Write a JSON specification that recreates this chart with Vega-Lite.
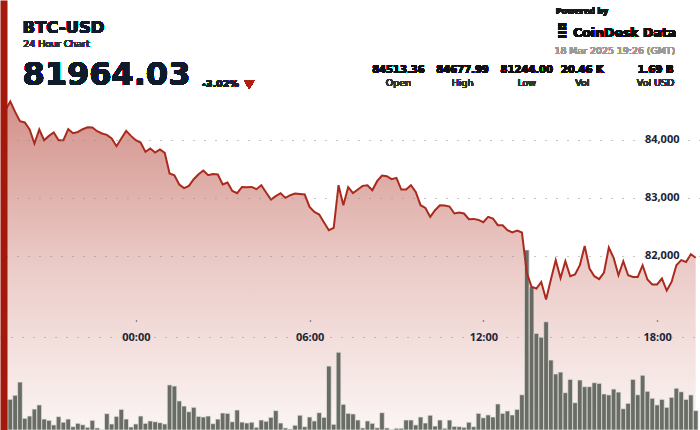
{
  "$schema": "https://vega.github.io/schema/vega-lite/v6.json",
  "width": 700,
  "height": 430,
  "autosize": {"type": "fit", "contains": "padding"},
  "padding": 0,
  "background": "white",
  "config": {"view": {"stroke": null}, "font": "Open Sans"},
  "data": {"values": [
    {"t":"2025-03-17T19:30Z","price":84513,"vol":190},
    {"t":"2025-03-17T19:40Z","price":84660,"vol":193},
    {"t":"2025-03-17T19:50Z","price":84480,"vol":219},
    {"t":"2025-03-17T20:00Z","price":84319,"vol":302},
    {"t":"2025-03-17T20:10Z","price":84297,"vol":74},
    {"t":"2025-03-17T20:20Z","price":84176,"vol":88},
    {"t":"2025-03-17T20:30Z","price":83934,"vol":132},
    {"t":"2025-03-17T20:40Z","price":84176,"vol":158},
    {"t":"2025-03-17T20:50Z","price":83991,"vol":69},
    {"t":"2025-03-17T21:00Z","price":84066,"vol":61},
    {"t":"2025-03-17T21:10Z","price":84124,"vol":32},
    {"t":"2025-03-17T21:20Z","price":83991,"vol":84},
    {"t":"2025-03-17T21:30Z","price":83991,"vol":49},
    {"t":"2025-03-17T21:40Z","price":84181,"vol":69},
    {"t":"2025-03-17T21:50Z","price":84112,"vol":21},
    {"t":"2025-03-17T22:00Z","price":84134,"vol":42},
    {"t":"2025-03-17T22:10Z","price":84181,"vol":33},
    {"t":"2025-03-17T22:20Z","price":84215,"vol":17},
    {"t":"2025-03-17T22:30Z","price":84210,"vol":61},
    {"t":"2025-03-17T22:40Z","price":84147,"vol":13},
    {"t":"2025-03-17T22:50Z","price":84107,"vol":2},
    {"t":"2025-03-17T23:00Z","price":84083,"vol":103},
    {"t":"2025-03-17T23:10Z","price":84021,"vol":38},
    {"t":"2025-03-17T23:20Z","price":83888,"vol":86},
    {"t":"2025-03-17T23:30Z","price":84021,"vol":130},
    {"t":"2025-03-17T23:40Z","price":84152,"vol":69},
    {"t":"2025-03-17T23:50Z","price":84066,"vol":19},
    {"t":"2025-03-18T00:00Z","price":83991,"vol":38},
    {"t":"2025-03-18T00:10Z","price":83952,"vol":88},
    {"t":"2025-03-18T00:20Z","price":83790,"vol":42},
    {"t":"2025-03-18T00:30Z","price":83848,"vol":57},
    {"t":"2025-03-18T00:40Z","price":83779,"vol":52},
    {"t":"2025-03-18T00:50Z","price":83831,"vol":46},
    {"t":"2025-03-18T01:00Z","price":83772,"vol":38},
    {"t":"2025-03-18T01:10Z","price":83417,"vol":284},
    {"t":"2025-03-18T01:20Z","price":83388,"vol":277},
    {"t":"2025-03-18T01:30Z","price":83228,"vol":183},
    {"t":"2025-03-18T01:40Z","price":83165,"vol":151},
    {"t":"2025-03-18T01:50Z","price":83204,"vol":115},
    {"t":"2025-03-18T02:00Z","price":83319,"vol":143},
    {"t":"2025-03-18T02:10Z","price":83405,"vol":86},
    {"t":"2025-03-18T02:20Z","price":83469,"vol":82},
    {"t":"2025-03-18T02:30Z","price":83388,"vol":88},
    {"t":"2025-03-18T02:40Z","price":83410,"vol":40},
    {"t":"2025-03-18T02:50Z","price":83400,"vol":69},
    {"t":"2025-03-18T03:00Z","price":83228,"vol":107},
    {"t":"2025-03-18T03:10Z","price":83262,"vol":105},
    {"t":"2025-03-18T03:20Z","price":83117,"vol":52},
    {"t":"2025-03-18T03:30Z","price":83078,"vol":126},
    {"t":"2025-03-18T03:40Z","price":83186,"vol":50},
    {"t":"2025-03-18T03:50Z","price":83181,"vol":44},
    {"t":"2025-03-18T04:00Z","price":83186,"vol":49},
    {"t":"2025-03-18T04:10Z","price":83147,"vol":17},
    {"t":"2025-03-18T04:20Z","price":83216,"vol":63},
    {"t":"2025-03-18T04:30Z","price":83090,"vol":55},
    {"t":"2025-03-18T04:40Z","price":82969,"vol":80},
    {"t":"2025-03-18T04:50Z","price":83026,"vol":122},
    {"t":"2025-03-18T05:00Z","price":83078,"vol":44},
    {"t":"2025-03-18T05:10Z","price":82997,"vol":13},
    {"t":"2025-03-18T05:20Z","price":83043,"vol":6},
    {"t":"2025-03-18T05:30Z","price":83072,"vol":30},
    {"t":"2025-03-18T05:40Z","price":83066,"vol":93},
    {"t":"2025-03-18T05:50Z","price":83055,"vol":21},
    {"t":"2025-03-18T06:00Z","price":82841,"vol":82},
    {"t":"2025-03-18T06:10Z","price":82755,"vol":57},
    {"t":"2025-03-18T06:20Z","price":82710,"vol":109},
    {"t":"2025-03-18T06:30Z","price":82573,"vol":80},
    {"t":"2025-03-18T06:40Z","price":82440,"vol":403},
    {"t":"2025-03-18T06:50Z","price":82479,"vol":36},
    {"t":"2025-03-18T07:00Z","price":83216,"vol":490},
    {"t":"2025-03-18T07:10Z","price":82871,"vol":162},
    {"t":"2025-03-18T07:20Z","price":83181,"vol":105},
    {"t":"2025-03-18T07:30Z","price":83080,"vol":101},
    {"t":"2025-03-18T07:40Z","price":83141,"vol":63},
    {"t":"2025-03-18T07:50Z","price":83204,"vol":13},
    {"t":"2025-03-18T08:00Z","price":83216,"vol":57},
    {"t":"2025-03-18T08:10Z","price":83129,"vol":42},
    {"t":"2025-03-18T08:20Z","price":83285,"vol":14},
    {"t":"2025-03-18T08:30Z","price":83383,"vol":109},
    {"t":"2025-03-18T08:40Z","price":83371,"vol":13},
    {"t":"2025-03-18T08:50Z","price":83319,"vol":2},
    {"t":"2025-03-18T09:00Z","price":83342,"vol":11},
    {"t":"2025-03-18T09:10Z","price":83141,"vol":11},
    {"t":"2025-03-18T09:20Z","price":83141,"vol":63},
    {"t":"2025-03-18T09:30Z","price":83216,"vol":63},
    {"t":"2025-03-18T09:40Z","price":83100,"vol":32},
    {"t":"2025-03-18T09:50Z","price":82871,"vol":82},
    {"t":"2025-03-18T10:00Z","price":82824,"vol":44},
    {"t":"2025-03-18T10:10Z","price":82669,"vol":93},
    {"t":"2025-03-18T10:20Z","price":82785,"vol":25},
    {"t":"2025-03-18T10:30Z","price":82871,"vol":63},
    {"t":"2025-03-18T10:40Z","price":82866,"vol":11},
    {"t":"2025-03-18T10:50Z","price":82848,"vol":63},
    {"t":"2025-03-18T11:00Z","price":82728,"vol":23},
    {"t":"2025-03-18T11:10Z","price":82745,"vol":21},
    {"t":"2025-03-18T11:20Z","price":82728,"vol":17},
    {"t":"2025-03-18T11:30Z","price":82629,"vol":49},
    {"t":"2025-03-18T11:40Z","price":82635,"vol":21},
    {"t":"2025-03-18T11:50Z","price":82617,"vol":105},
    {"t":"2025-03-18T12:00Z","price":82578,"vol":77},
    {"t":"2025-03-18T12:10Z","price":82669,"vol":95},
    {"t":"2025-03-18T12:20Z","price":82641,"vol":82},
    {"t":"2025-03-18T12:30Z","price":82526,"vol":164},
    {"t":"2025-03-18T12:40Z","price":82526,"vol":105},
    {"t":"2025-03-18T12:50Z","price":82440,"vol":120},
    {"t":"2025-03-18T13:00Z","price":82400,"vol":95},
    {"t":"2025-03-18T13:10Z","price":82434,"vol":130},
    {"t":"2025-03-18T13:20Z","price":82400,"vol":222},
    {"t":"2025-03-18T13:30Z","price":81707,"vol":1134},
    {"t":"2025-03-18T13:40Z","price":81462,"vol":903},
    {"t":"2025-03-18T13:50Z","price":81434,"vol":609},
    {"t":"2025-03-18T14:00Z","price":81548,"vol":584},
    {"t":"2025-03-18T14:10Z","price":81244,"vol":682},
    {"t":"2025-03-18T14:20Z","price":81590,"vol":441},
    {"t":"2025-03-18T14:30Z","price":81923,"vol":353},
    {"t":"2025-03-18T14:40Z","price":81617,"vol":365},
    {"t":"2025-03-18T14:50Z","price":81905,"vol":235},
    {"t":"2025-03-18T15:00Z","price":81647,"vol":319},
    {"t":"2025-03-18T15:10Z","price":81676,"vol":172},
    {"t":"2025-03-18T15:20Z","price":81836,"vol":315},
    {"t":"2025-03-18T15:30Z","price":82169,"vol":273},
    {"t":"2025-03-18T15:40Z","price":81779,"vol":273},
    {"t":"2025-03-18T15:50Z","price":81647,"vol":298},
    {"t":"2025-03-18T16:00Z","price":81595,"vol":294},
    {"t":"2025-03-18T16:10Z","price":81710,"vol":227},
    {"t":"2025-03-18T16:20Z","price":82141,"vol":221},
    {"t":"2025-03-18T16:30Z","price":81962,"vol":258},
    {"t":"2025-03-18T16:40Z","price":81664,"vol":239},
    {"t":"2025-03-18T16:50Z","price":81905,"vol":134},
    {"t":"2025-03-18T17:00Z","price":81664,"vol":168},
    {"t":"2025-03-18T17:10Z","price":81635,"vol":319},
    {"t":"2025-03-18T17:20Z","price":81635,"vol":222},
    {"t":"2025-03-18T17:30Z","price":81836,"vol":345},
    {"t":"2025-03-18T17:40Z","price":81590,"vol":244},
    {"t":"2025-03-18T17:50Z","price":81504,"vol":200},
    {"t":"2025-03-18T18:00Z","price":81504,"vol":158},
    {"t":"2025-03-18T18:10Z","price":81607,"vol":193},
    {"t":"2025-03-18T18:20Z","price":81400,"vol":143},
    {"t":"2025-03-18T18:30Z","price":81548,"vol":206},
    {"t":"2025-03-18T18:40Z","price":81836,"vol":263},
    {"t":"2025-03-18T18:50Z","price":81923,"vol":241},
    {"t":"2025-03-18T19:00Z","price":81893,"vol":193},
    {"t":"2025-03-18T19:10Z","price":82026,"vol":221},
    {"t":"2025-03-18T19:20Z","price":81964,"vol":122}
  ]},
  "layer": [
    {
      "mark": {"type": "area", "clip": true,
        "color": {"gradient": "linear", "x1": 0, "y1": 0, "x2": 0, "y2": 1,
          "stops": [
            {"offset": 0, "color": "#d3918a"},
            {"offset": 0.5, "color": "#ebcbc7"},
            {"offset": 1, "color": "#fbf5f4"}
          ]}},
      "encoding": {
        "x": {
          "field": "t", "type": "temporal",
          "scale": {"type": "utc", "domain": [
            {"year": 2025, "month": 3, "date": 17, "hours": 19, "minutes": 29, "utc": true},
            {"year": 2025, "month": 3, "date": 18, "hours": 19, "minutes": 18, "seconds": 33, "utc": true}
          ]},
          "axis": {
            "orient": "bottom", "offset": -93, "title": null, "grid": false,
            "values": [
              {"year": 2025, "month": 3, "date": 18, "hours": 0, "utc": true},
              {"year": 2025, "month": 3, "date": 18, "hours": 6, "utc": true},
              {"year": 2025, "month": 3, "date": 18, "hours": 12, "utc": true},
              {"year": 2025, "month": 3, "date": 18, "hours": 18, "utc": true}
            ],
            "labelExpr": "utcFormat(datum.value, '%H:%M')",
            "domain": true, "domainDash": [1, 10], "domainColor": "#8c8c8c", "domainWidth": 1,
            "ticks": true, "tickSize": -17, "tickDash": [0, 16, 1, 100], "tickColor": "#333333", "tickWidth": 1.3,
            "labelPadding": 17, "labelBaseline": "middle", "labelFlush": false,
            "labelFont": "Open Sans", "labelFontWeight": "bold", "labelFontSize": 11, "labelColor": "#1b2436",
            "zindex": 1
          }
        },
        "y": {
          "field": "price", "type": "quantitative",
          "scale": {"domain": [78995, 86409], "nice": false, "zero": false},
          "axis": {"orient": "right", "values": [82000, 83000, 84000], "labelExpr": "format(datum.value, ',')", "title": null,
                   "domain": false, "ticks": false, "labelPadding": -21, "labelAlign": "right",
                   "labelBaseline": "middle", "labelFont": "Open Sans", "labelFontWeight": "bold",
                   "labelFontSize": 11, "labelColor": "#1b2436",
                   "grid": true, "gridDash": [1, 10], "gridColor": "#8c8c8c", "gridWidth": 1, "zindex": 1}
        },
        "y2": {"datum": 78995}
      }
    },
    {
      "mark": {"type": "bar", "width": 4.7, "color": "#565b53", "opacity": 0.88, "stroke": "#e4e5e1", "strokeWidth": 0.7, "clip": true},
      "encoding": {
        "x": {"field": "t", "type": "temporal"},
        "y": {
          "field": "vol", "type": "quantitative",
          "scale": {"domain": [0, 2709], "nice": false, "zero": true},
          "axis": {"orient": "left", "labels": false, "ticks": false, "grid": false, "title": null,
                   "domainColor": "#a3190b", "domainWidth": 7, "offset": -3.5, "zindex": 3}
        }
      }
    },
    {
      "encoding": {
        "x": {"field": "t", "type": "temporal"},
        "y": {"field": "price", "type": "quantitative", "axis": null,
              "scale": {"domain": [78995, 86409], "nice": false, "zero": false}}
      },
      "layer": [
        {
          "mark": {"type": "line", "color": "#aa2a1d", "strokeWidth": 2, "clip": true}
        },
        {
          "mark": {"type": "text", "text": "BTC-USD", "font": "DejaVu Sans", "fontWeight": "bold", "fontSize": 16.5, "color": "#0f1a2b", "align": "left", "baseline": "alphabetic"},
          "encoding": {"x": {"datum": {"year": 2025, "month": 3, "date": 17, "hours": 20, "minutes": 5, "utc": true}}, "y": {"datum": 85834, "axis": null}}
        },
        {
          "mark": {"type": "text", "text": "24 Hour Chart", "font": "DejaVu Sans", "fontSize": 9.4, "color": "#2b3440", "align": "left", "baseline": "alphabetic"},
          "encoding": {"x": {"datum": {"year": 2025, "month": 3, "date": 17, "hours": 20, "minutes": 7, "utc": true}}, "y": {"datum": 85603, "axis": null}}
        },
        {
          "mark": {"type": "text", "text": "81964.03", "font": "DejaVu Sans", "fontWeight": "bold", "fontSize": 32, "color": "#0f1a2b", "align": "left", "baseline": "alphabetic"},
          "encoding": {"x": {"datum": {"year": 2025, "month": 3, "date": 17, "hours": 20, "minutes": 5, "utc": true}}, "y": {"datum": 84943, "axis": null}}
        },
        {
          "mark": {"type": "text", "text": "-3.02%", "font": "DejaVu Sans", "fontWeight": "bold", "fontSize": 9.5, "color": "#1a2230", "align": "left", "baseline": "alphabetic"},
          "encoding": {"x": {"datum": {"year": 2025, "month": 3, "date": 18, "hours": 2, "minutes": 17, "utc": true}}, "y": {"datum": 84903, "axis": null}}
        },
        {
          "mark": {"type": "point", "shape": "triangle-down", "filled": true, "size": 110, "color": "#b0200e", "opacity": 1},
          "encoding": {"x": {"datum": {"year": 2025, "month": 3, "date": 18, "hours": 3, "minutes": 55, "utc": true}}, "y": {"datum": 84952, "axis": null}}
        },
        {
          "mark": {"type": "text", "text": "Powered by", "font": "Open Sans", "fontWeight": "bold", "fontSize": 9, "color": "#1a1a1a", "align": "left", "baseline": "alphabetic"},
          "encoding": {"x": {"datum": {"year": 2025, "month": 3, "date": 18, "hours": 14, "minutes": 30, "utc": true}}, "y": {"datum": 86167, "axis": null}}
        },
        {
          "mark": {"type": "text", "text": "⣿", "font": "DejaVu Sans", "fontWeight": "bold", "fontSize": 15, "color": "#111111", "align": "center", "baseline": "middle"},
          "encoding": {"x": {"datum": {"year": 2025, "month": 3, "date": 18, "hours": 14, "minutes": 43, "utc": true}}, "y": {"datum": 85896, "axis": null}}
        },
        {
          "mark": {"type": "text", "text": "CoinDesk Data", "font": "DejaVu Sans", "fontWeight": "bold", "fontSize": 12.5, "color": "#111111", "align": "left", "baseline": "alphabetic"},
          "encoding": {"x": {"datum": {"year": 2025, "month": 3, "date": 18, "hours": 15, "minutes": 6, "utc": true}}, "y": {"datum": 85776, "axis": null}}
        },
        {
          "mark": {"type": "text", "text": "18 Mar 2025 19:26 (GMT)", "font": "DejaVu Sans", "fontSize": 9.4, "color": "#9a9a9a", "align": "right", "baseline": "alphabetic"},
          "encoding": {"x": {"datum": {"year": 2025, "month": 3, "date": 18, "hours": 18, "minutes": 37, "seconds": 36, "utc": true}}, "y": {"datum": 85472, "axis": null}}
        },
        {
          "mark": {"type": "text", "text": "84513.36", "font": "DejaVu Sans", "fontWeight": "bold", "fontSize": 10, "color": "#111111", "align": "center", "baseline": "alphabetic"},
          "encoding": {"x": {"datum": {"year": 2025, "month": 3, "date": 18, "hours": 9, "minutes": 4, "utc": true}}, "y": {"datum": 85155, "axis": null}}
        },
        {
          "mark": {"type": "text", "text": "84677.99", "font": "DejaVu Sans", "fontWeight": "bold", "fontSize": 10, "color": "#111111", "align": "center", "baseline": "alphabetic"},
          "encoding": {"x": {"datum": {"year": 2025, "month": 3, "date": 18, "hours": 11, "minutes": 17, "utc": true}}, "y": {"datum": 85155, "axis": null}}
        },
        {
          "mark": {"type": "text", "text": "81244.00", "font": "DejaVu Sans", "fontWeight": "bold", "fontSize": 10, "color": "#111111", "align": "center", "baseline": "alphabetic"},
          "encoding": {"x": {"datum": {"year": 2025, "month": 3, "date": 18, "hours": 13, "minutes": 30, "utc": true}}, "y": {"datum": 85155, "axis": null}}
        },
        {
          "mark": {"type": "text", "text": "20.46 K", "font": "DejaVu Sans", "fontWeight": "bold", "fontSize": 10, "color": "#111111", "align": "center", "baseline": "alphabetic"},
          "encoding": {"x": {"datum": {"year": 2025, "month": 3, "date": 18, "hours": 15, "minutes": 25, "utc": true}}, "y": {"datum": 85155, "axis": null}}
        },
        {
          "mark": {"type": "text", "text": "1.69 B", "font": "DejaVu Sans", "fontWeight": "bold", "fontSize": 10, "color": "#111111", "align": "center", "baseline": "alphabetic"},
          "encoding": {"x": {"datum": {"year": 2025, "month": 3, "date": 18, "hours": 17, "minutes": 57, "utc": true}}, "y": {"datum": 85155, "axis": null}}
        },
        {
          "mark": {"type": "text", "text": "Open", "font": "DejaVu Sans", "fontSize": 9.5, "color": "#333333", "align": "center", "baseline": "alphabetic"},
          "encoding": {"x": {"datum": {"year": 2025, "month": 3, "date": 18, "hours": 9, "minutes": 4, "utc": true}}, "y": {"datum": 84926, "axis": null}}
        },
        {
          "mark": {"type": "text", "text": "High", "font": "DejaVu Sans", "fontSize": 9.5, "color": "#333333", "align": "center", "baseline": "alphabetic"},
          "encoding": {"x": {"datum": {"year": 2025, "month": 3, "date": 18, "hours": 11, "minutes": 17, "utc": true}}, "y": {"datum": 84926, "axis": null}}
        },
        {
          "mark": {"type": "text", "text": "Low", "font": "DejaVu Sans", "fontSize": 9.5, "color": "#333333", "align": "center", "baseline": "alphabetic"},
          "encoding": {"x": {"datum": {"year": 2025, "month": 3, "date": 18, "hours": 13, "minutes": 30, "utc": true}}, "y": {"datum": 84926, "axis": null}}
        },
        {
          "mark": {"type": "text", "text": "Vol", "font": "DejaVu Sans", "fontSize": 9.5, "color": "#333333", "align": "center", "baseline": "alphabetic"},
          "encoding": {"x": {"datum": {"year": 2025, "month": 3, "date": 18, "hours": 15, "minutes": 25, "utc": true}}, "y": {"datum": 84926, "axis": null}}
        },
        {
          "mark": {"type": "text", "text": "Vol USD", "font": "DejaVu Sans", "fontSize": 9.5, "color": "#333333", "align": "center", "baseline": "alphabetic"},
          "encoding": {"x": {"datum": {"year": 2025, "month": 3, "date": 18, "hours": 17, "minutes": 57, "utc": true}}, "y": {"datum": 84926, "axis": null}}
        }
      ]
    }
  ],
  "resolve": {"scale": {"y": "independent"}}
}
